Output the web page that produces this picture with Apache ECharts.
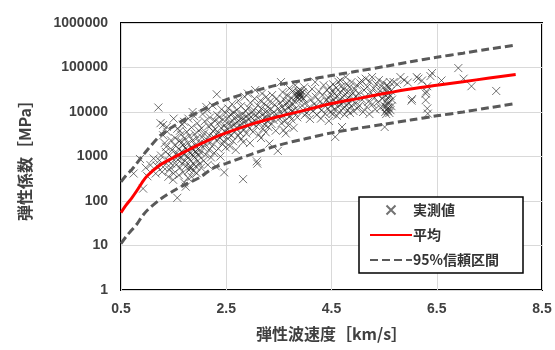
<!DOCTYPE html>
<html>
<head>
<meta charset="utf-8">
<script src="https://cdn.jsdelivr.net/npm/echarts@6/dist/echarts.min.js"></script>
<style>
  html, body { margin: 0; padding: 0; background: #fff; }
  #chart { width: 555px; height: 350px; }
</style>
</head>
<body>
<div id="chart"></div>
<script>
// x tick labels (km/s) and y decades (MPa)
const xTicks = [0.5, 2.5, 4.5, 6.5, 8.5]
const yTicks = [1, 10, 100, 1000, 10000, 100000, 1000000]

// 実測値, grouped by velocity range [km/s, MPa]
const obsLow = [
  [0.74, 415], [0.92, 190], [0.86, 880], [0.97, 560], [1.0, 360]
]
const obs10 = [
  [1.21, 12600], [1.25, 5600], [1.30, 5100], [1.50, 7100], [1.37, 4600], [1.30, 3000],
  [1.36, 1650], [1.42, 1070], [1.45, 700], [1.30, 580], [1.23, 820], [1.16, 415],
  [1.06, 640], [1.50, 415], [1.40, 350], [1.57, 118], [1.42, 500], [1.48, 900],
  [1.35, 1270], [1.12, 900], [1.28, 450], [1.45, 2300], [1.33, 2000], [1.47, 1400],
  [1.40, 800], [1.18, 620], [1.38, 3600], [1.44, 560], [1.49, 300], [1.26, 1050]
]
const obs15 = [
  [1.52, 1800], [1.53, 2600], [1.55, 650], [1.56, 1200], [1.57, 4200], [1.58, 850],
  [1.60, 380], [1.60, 1500], [1.61, 2200], [1.62, 560], [1.63, 950], [1.64, 3100],
  [1.65, 1300], [1.66, 700], [1.67, 5200], [1.68, 440], [1.68, 1800], [1.70, 260],
  [1.70, 1100], [1.71, 2600], [1.72, 800], [1.73, 210], [1.73, 1500], [1.74, 620],
  [1.75, 3600], [1.76, 1000], [1.77, 330], [1.77, 2000], [1.78, 7100], [1.79, 500],
  [1.80, 1250], [1.80, 2900], [1.81, 850], [1.82, 600], [1.83, 1600], [1.84, 4500],
  [1.84, 350], [1.85, 1100], [1.86, 2300], [1.87, 700], [1.88, 1400], [1.88, 480],
  [1.89, 8000], [1.90, 950], [1.90, 3200], [1.91, 1800], [1.92, 600], [1.93, 1200],
  [1.94, 2600], [1.94, 420], [1.95, 5600], [1.96, 800], [1.97, 1500], [1.98, 1050],
  [1.98, 3800], [1.99, 680], [2.00, 2000], [1.62, 3800], [1.70, 6000], [1.86, 10000],
  [1.76, 1400], [1.58, 1000], [1.66, 2100], [1.92, 1300], [1.82, 540]
]
const obs20 = [
  [2.01, 1250], [2.02, 560], [2.03, 4300], [2.04, 2700], [2.05, 9000], [2.06, 1600],
  [2.07, 800], [2.08, 3300], [2.09, 6200], [2.10, 1900], [2.11, 1100], [2.12, 13000],
  [2.13, 2400], [2.14, 11000], [2.15, 650], [2.16, 4800], [2.17, 1400], [2.18, 3000],
  [2.19, 7500], [2.20, 2100], [2.21, 950], [2.22, 5200], [2.23, 1700], [2.24, 14000],
  [2.25, 3700], [2.26, 2800], [2.27, 1200], [2.28, 6400], [2.29, 4100], [2.30, 600],
  [2.31, 2300], [2.32, 25000], [2.33, 8500], [2.34, 3300], [2.35, 1500], [2.36, 5800],
  [2.37, 7700], [2.38, 2600], [2.39, 1000], [2.40, 4400], [2.41, 11500], [2.42, 3000],
  [2.43, 1900], [2.44, 6800], [2.45, 2200], [2.46, 440], [2.47, 5000], [2.48, 3600],
  [2.49, 9500], [2.49, 1600]
]
const obs25 = [
  [2.51, 4200], [2.52, 7000], [2.53, 2500], [2.54, 12000], [2.55, 3300], [2.56, 5600],
  [2.57, 1700], [2.58, 8800], [2.59, 4700], [2.60, 3000], [2.61, 15000], [2.62, 6300],
  [2.63, 2200], [2.64, 9800], [2.65, 5200], [2.66, 3700], [2.67, 7600], [2.68, 1400],
  [2.69, 4400], [2.70, 11000], [2.71, 6000], [2.72, 2900], [2.73, 18000], [2.74, 8200],
  [2.75, 4900], [2.76, 3400], [2.77, 6900], [2.78, 13500], [2.79, 2500], [2.80, 5500],
  [2.81, 9000], [2.82, 310], [2.82, 2100], [2.83, 7200], [2.84, 4000], [2.85, 22000],
  [2.86, 6100], [2.87, 10500], [2.88, 3300], [2.89, 8000], [2.90, 5000], [2.91, 26000],
  [2.92, 12500], [2.93, 6800], [2.94, 4300], [2.95, 2000], [2.96, 16000], [2.97, 7800],
  [2.98, 9500], [2.99, 5600]
]
const obs30 = [
  [3.01, 3600], [3.02, 11000], [3.03, 6500], [3.04, 20000], [3.05, 31000], [3.06, 8400],
  [3.07, 4800], [3.08, 780], [3.09, 690], [3.10, 14000], [3.11, 7300], [3.12, 3100],
  [3.13, 9800], [3.14, 5600], [3.15, 18000], [3.16, 2600], [3.17, 12000], [3.18, 26000],
  [3.19, 6800], [3.20, 4200], [3.21, 9000], [3.22, 15500], [3.23, 5200], [3.24, 7600],
  [3.25, 3500], [3.26, 22000], [3.27, 10500], [3.28, 6200], [3.29, 13000], [3.30, 4600],
  [3.31, 8300], [3.32, 1950], [3.33, 17000], [3.34, 7000], [3.35, 11500], [3.36, 5400],
  [3.37, 24000], [3.38, 9400], [3.40, 6600], [3.42, 14500], [3.44, 3800], [3.45, 8900],
  [3.46, 20000], [3.48, 1340], [3.49, 12000]
]
const obs35 = [
  [3.51, 7200], [3.52, 16000], [3.53, 10000], [3.54, 47000], [3.55, 5600], [3.56, 13000],
  [3.57, 28000], [3.58, 8300], [3.59, 3900], [3.60, 19000], [3.61, 11000], [3.62, 6400],
  [3.63, 3300], [3.64, 15000], [3.65, 24000], [3.66, 9200], [3.67, 12500], [3.68, 5000],
  [3.69, 17500], [3.70, 34000], [3.71, 8000], [3.72, 13500], [3.73, 21000], [3.74, 6800],
  [3.75, 10500], [3.76, 29000], [3.77, 15000], [3.78, 4400], [3.79, 18000], [3.80, 9600],
  [3.81, 40000], [3.82, 12000], [3.83, 22000], [3.84, 26000], [3.85, 7600], [3.86, 24000],
  [3.87, 30000], [3.87, 21000], [3.88, 27000], [3.89, 19000], [3.90, 25000], [3.90, 23000],
  [3.91, 31000], [3.92, 26000], [3.93, 22000], [3.94, 14000], [3.95, 28000], [3.96, 11000],
  [3.97, 20000], [3.98, 36000], [3.99, 8500]
]
const obs40 = [
  [4.01, 16000], [4.03, 9500], [4.05, 26000], [4.07, 12500], [4.09, 7000], [4.11, 19000],
  [4.13, 33000], [4.15, 10500], [4.17, 15000], [4.19, 47000], [4.20, 22000], [4.22, 8600],
  [4.24, 13000], [4.26, 29000], [4.28, 17000], [4.30, 7100], [4.31, 11000], [4.33, 24000],
  [4.35, 40000], [4.36, 14500], [4.38, 9200], [4.40, 18000], [4.41, 31000], [4.43, 12000],
  [4.44, 21000], [4.45, 6300], [4.46, 16500], [4.47, 36000], [4.48, 10000], [4.49, 25000]
]
const obs45 = [
  [4.50, 14000], [4.51, 30000], [4.52, 9000], [4.53, 42000], [4.54, 19000], [4.55, 11500],
  [4.56, 26000], [4.57, 2750], [4.58, 16000], [4.59, 35000], [4.60, 8200], [4.61, 22000],
  [4.62, 13000], [4.63, 48000], [4.64, 18000], [4.65, 9900], [4.66, 28000], [4.67, 51000],
  [4.68, 15000], [4.69, 38000], [4.70, 4600], [4.71, 21000], [4.72, 12000], [4.73, 32000],
  [4.74, 17000], [4.75, 8800], [4.76, 25000], [4.77, 61000], [4.78, 14000], [4.79, 43000],
  [4.80, 20000], [4.81, 11000], [4.82, 29000], [4.83, 16000], [4.84, 36000], [4.85, 9500],
  [4.86, 23000], [4.87, 13500], [4.88, 47000], [4.90, 18500], [4.91, 27000], [4.92, 10500],
  [4.94, 33000], [4.95, 15500], [4.96, 22000], [4.98, 40000], [4.99, 12000]
]
const obs50 = [
  [5.01, 26000], [5.03, 14000], [5.05, 44000], [5.07, 51000], [5.08, 19000], [5.10, 10000],
  [5.12, 31000], [5.14, 22000], [5.15, 56000], [5.17, 13000], [5.18, 37000], [5.20, 17000],
  [5.22, 9000], [5.23, 48000], [5.25, 27000], [5.27, 61000], [5.28, 15000], [5.30, 34000],
  [5.32, 21000], [5.33, 11500], [5.35, 42000], [5.37, 25000], [5.38, 16500], [5.40, 52000],
  [5.42, 30000], [5.43, 12500], [5.45, 38000], [5.47, 20000], [5.48, 46000], [5.50, 14000]
]
const obs55 = [
  [5.51, 4600], [5.52, 10000], [5.52, 24000], [5.53, 13000], [5.53, 33000], [5.54, 9000],
  [5.54, 18000], [5.55, 28000], [5.55, 11500], [5.56, 40000], [5.56, 15000], [5.57, 21000],
  [5.57, 10500], [5.58, 26000], [5.58, 12500], [5.59, 35000], [5.60, 17000], [5.60, 9500],
  [5.61, 47000], [5.62, 23000], [5.62, 11000], [5.63, 30000], [5.64, 13500], [5.65, 19000]
]
const obsHigh = [
  [5.68, 47000], [5.75, 42000], [5.81, 61000], [5.88, 52000], [5.95, 46000], [6.02, 18000],
  [6.03, 19500], [6.12, 61000], [6.15, 56000], [6.22, 51000], [6.29, 26000], [6.29, 18500],
  [6.32, 38000], [6.32, 12000], [6.33, 9200], [6.38, 64000], [6.41, 75000], [6.30, 29000],
  [6.59, 51000], [6.91, 97000], [7.01, 56000], [7.16, 38000], [7.63, 29700]
]

// 平均 and 95%信頼区間 curves
const curveX = [0.5, 0.6, 0.7, 0.8, 0.9, 1.0, 1.25, 1.5, 1.75, 2.0, 2.25, 2.5, 3.0, 3.5, 4.0, 4.5, 5.0, 5.5, 6.0, 6.5, 7.0, 7.5, 8.0]
const meanY  = [55, 82, 115, 170, 260, 370, 650, 950, 1350, 1900, 2600, 3400, 5400, 7900, 11000, 15500, 20000, 26000, 33000, 40000, 48000, 58000, 70000]
const upperY = [270, 380, 500, 700, 1000, 1400, 3000, 4800, 7300, 10500, 14500, 19000, 29000, 41000, 52000, 66000, 83000, 105000, 135000, 170000, 210000, 260000, 320000]
const lowerY = [11, 16, 22, 30, 45, 62, 110, 170, 245, 340, 550, 700, 1150, 1800, 2500, 3400, 4300, 5300, 6600, 8200, 10000, 12500, 15500]

const observed = [].concat(obsLow, obs10, obs15, obs20, obs25, obs30, obs35, obs40, obs45, obs50, obs55, obsHigh)
const pairs = ys => curveX.map((x, i) => [x, ys[i]])

const chart = echarts.init(document.getElementById('chart'))
const labelFont = { fontFamily: 'Liberation Sans', fontWeight: 'bold', fontSize: 14, color: '#404040' }
const cjk = "'Noto Sans CJK JP'"
const dashStyle = { color: '#595959', width: 3, type: [8, 4] }

const option = {
  backgroundColor: '#FFFFFF',
  animation: false,
  grid: {
    left: 121, right: 13, top: 23, bottom: 60,
    show: true, borderColor: '#000', borderWidth: 2, backgroundColor: 'transparent'
  },
  legend: {
    orient: 'vertical',
    left: 359, top: 197,
    width: 160,
    padding: [6, 24, 6, 10],
    backgroundColor: '#fff',
    borderColor: '#000',
    borderWidth: 1.5,
    itemWidth: 42,
    itemHeight: 9,
    itemGap: 11,
    textStyle: { fontFamily: cjk, fontWeight: 'bold', fontSize: 14, color: '#333', padding: [0, 0, 0, -4] },
    data: [
      { name: '実測値' },
      // line legend icons: hide the centre marker, keep only the stroke
      { name: '平均', itemStyle: { opacity: 0 } },
      { name: '95%信頼区間', itemStyle: { opacity: 0 } }
    ]
  },
  xAxis: {
    type: 'value',
    min: 0.5, max: 8.5,
    name: '弾性波速度［km/s］',
    nameLocation: 'middle',
    nameGap: 36,
    nameTextStyle: { fontFamily: cjk, fontWeight: 'bold', fontSize: 16, color: '#404040' },
    axisLine: { show: false },
    axisTick: { show: false, customValues: xTicks },
    axisLabel: Object.assign({ margin: 12, customValues: xTicks, formatter: v => v.toFixed(1) }, labelFont),
    splitLine: { show: true, lineStyle: { color: '#d9d9d9', width: 1 } }
  },
  yAxis: {
    type: 'log',
    logBase: 10,
    min: yTicks[0], max: yTicks[yTicks.length - 1],
    interval: 1,
    name: '弾性係数［MPa］',
    nameLocation: 'middle',
    nameGap: 88,
    nameTextStyle: { fontFamily: cjk, fontWeight: 'bold', fontSize: 16, color: '#404040' },
    axisLine: { show: false },
    axisTick: { show: false },
    axisLabel: Object.assign({ margin: 13, formatter: v => String(Math.round(v)) }, labelFont),
    splitLine: { show: true, lineStyle: { color: '#d9d9d9', width: 1 } }
  },
  series: [
    {
      name: '実測値',
      type: 'scatter',
      symbol: 'path://M0,0L10,10M10,0L0,10',
      symbolSize: 8,
      itemStyle: { color: 'none', borderColor: 'rgba(35,35,35,0.8)', borderWidth: 1 },
      data: observed,
      z: 2
    },
    {
      name: '平均',
      type: 'line',
      smooth: 0.3,
      symbol: 'none',
      lineStyle: { color: '#ff0000', width: 3 },
      itemStyle: { color: '#ff0000' },
      data: pairs(meanY),
      z: 4
    },
    {
      name: '95%信頼区間',
      type: 'line',
      smooth: 0.3,
      symbol: 'none',
      lineStyle: dashStyle,
      itemStyle: { color: '#595959' },
      data: pairs(upperY),
      z: 3
    },
    {
      name: '95%信頼区間',
      type: 'line',
      smooth: 0.3,
      symbol: 'none',
      lineStyle: dashStyle,
      itemStyle: { color: '#595959' },
      data: pairs(lowerY),
      z: 3
    }
  ]
}

chart.setOption(option)
</script>
</body>
</html>
